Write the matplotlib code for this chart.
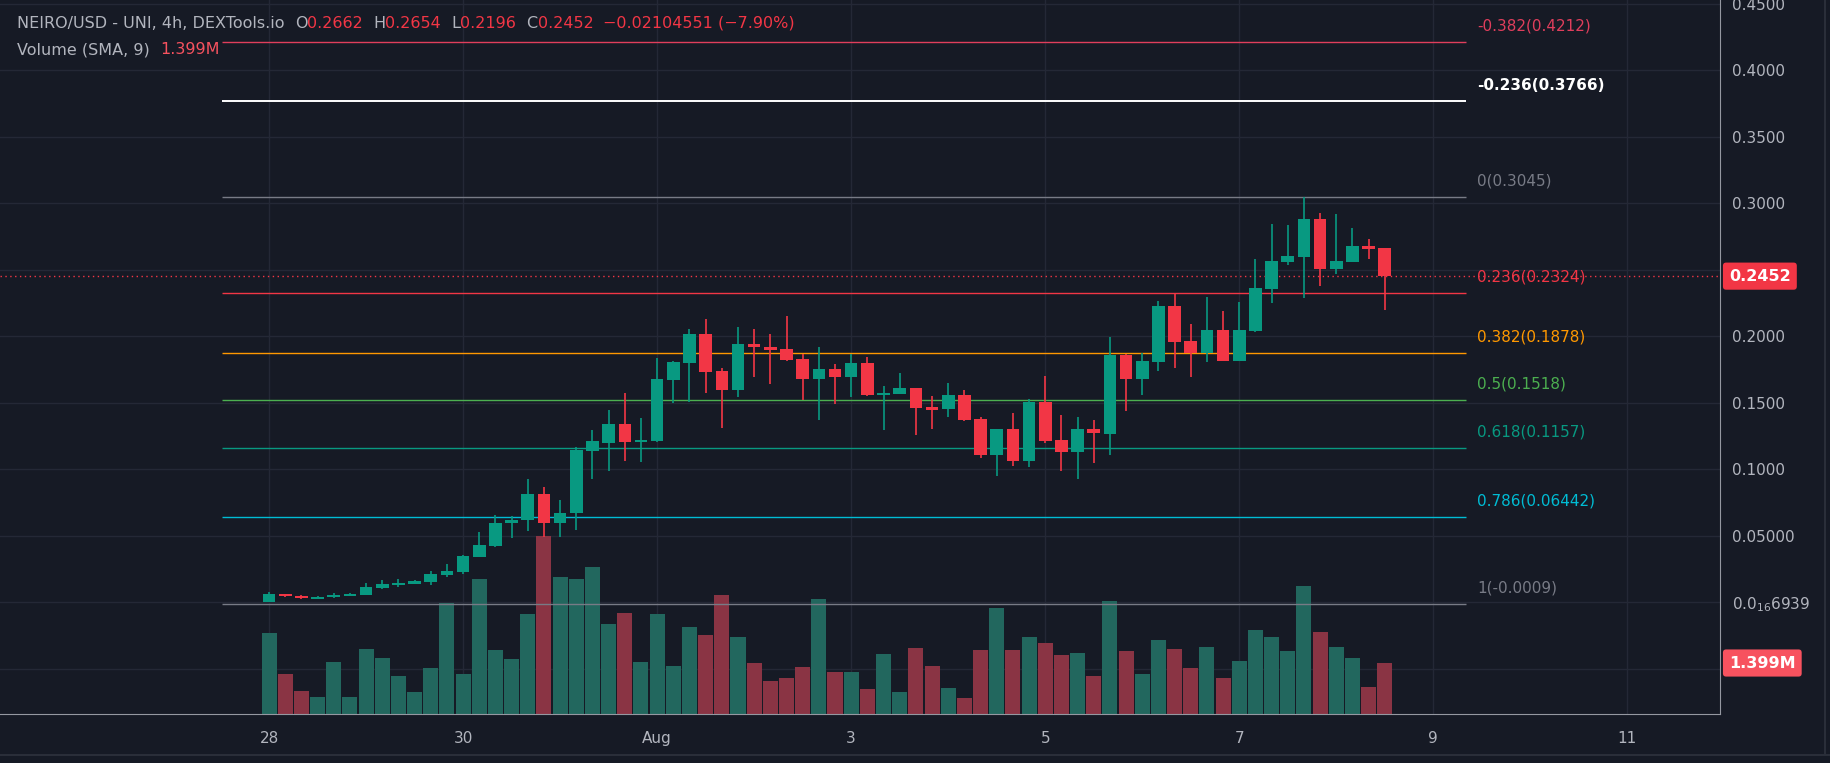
import numpy as np
import matplotlib
matplotlib.use("Agg")
import matplotlib.pyplot as plt
from matplotlib.transforms import blended_transform_factory

# 4h candles, index 0 = Jul 28 00:00
opens = [0.0002, 0.0064, 0.0050, 0.0029, 0.0038, 0.0052, 0.0058, 0.0110, 0.0130, 0.0140,
         0.0155, 0.0210, 0.0230, 0.0345, 0.0425, 0.0595, 0.0618, 0.0815, 0.0600, 0.0670,
         0.1141, 0.1201, 0.1341, 0.1209, 0.1213, 0.1672, 0.1802, 0.2017, 0.1739, 0.1598,
         0.1942, 0.1917, 0.1902, 0.1827, 0.1679, 0.1752, 0.1697, 0.1797, 0.1559, 0.1569,
         0.1609, 0.1469, 0.1451, 0.1556, 0.1381, 0.1109, 0.1304, 0.1066, 0.1507, 0.1221,
         0.1129, 0.1304, 0.1268, 0.1860, 0.1682, 0.1807, 0.2228, 0.1965, 0.1877, 0.2047,
         0.1817, 0.2042, 0.2358, 0.2558, 0.2596, 0.2881, 0.2506, 0.2561, 0.2678, 0.2662]
highs = [0.0077, 0.0066, 0.0056, 0.0047, 0.0070, 0.0072, 0.0144, 0.0169, 0.0177, 0.0170,
         0.0234, 0.0289, 0.0357, 0.0527, 0.0657, 0.0650, 0.0926, 0.0866, 0.0770, 0.1166,
         0.1296, 0.1447, 0.1572, 0.1386, 0.1834, 0.1815, 0.2052, 0.2130, 0.1759, 0.2072,
         0.2052, 0.2017, 0.2155, 0.1867, 0.1922, 0.1792, 0.1869, 0.1842, 0.1627, 0.1727,
         0.1612, 0.1552, 0.1647, 0.1596, 0.1396, 0.1306, 0.1426, 0.1532, 0.1702, 0.1411,
         0.1391, 0.1371, 0.1997, 0.1870, 0.1873, 0.2266, 0.2322, 0.2093, 0.2292, 0.2190,
         0.2260, 0.2578, 0.2843, 0.2836, 0.3045, 0.2929, 0.2919, 0.2814, 0.2731, 0.2662]
lows = [0.0000, 0.0044, 0.0028, 0.0027, 0.0036, 0.0050, 0.0055, 0.0105, 0.0115, 0.0137,
        0.0131, 0.0190, 0.0215, 0.0340, 0.0420, 0.0485, 0.0540, 0.0494, 0.0494, 0.0545,
        0.0928, 0.0990, 0.1063, 0.1056, 0.1205, 0.1496, 0.1509, 0.1576, 0.1309, 0.1546,
        0.1697, 0.1644, 0.1815, 0.1521, 0.1371, 0.1491, 0.1546, 0.1551, 0.1296, 0.1565,
        0.1258, 0.1301, 0.1391, 0.1366, 0.1089, 0.0953, 0.1029, 0.1021, 0.1196, 0.0990,
        0.0928, 0.1046, 0.1111, 0.1439, 0.1559, 0.1742, 0.1764, 0.1697, 0.1807, 0.1812,
        0.1812, 0.2035, 0.2251, 0.2535, 0.2288, 0.2378, 0.2468, 0.2556, 0.2581, 0.2196]
closes = [0.0064, 0.0046, 0.0030, 0.0042, 0.0058, 0.0066, 0.0116, 0.0139, 0.0149, 0.0162,
          0.0214, 0.0237, 0.0349, 0.0430, 0.0597, 0.0620, 0.0815, 0.0600, 0.0672, 0.1146,
          0.1210, 0.1341, 0.1209, 0.1220, 0.1679, 0.1807, 0.2017, 0.1734, 0.1598, 0.1942,
          0.1916, 0.1897, 0.1822, 0.1679, 0.1752, 0.1697, 0.1797, 0.1559, 0.1571, 0.1609,
          0.1464, 0.1446, 0.1556, 0.1371, 0.1109, 0.1304, 0.1066, 0.1507, 0.1216, 0.1129,
          0.1304, 0.1274, 0.1860, 0.1682, 0.1815, 0.2228, 0.1960, 0.1877, 0.2047, 0.1817,
          0.2047, 0.2363, 0.2566, 0.2603, 0.2881, 0.2506, 0.2566, 0.2678, 0.2656, 0.2452]
volumes_m = [2.22, 1.10, 0.63, 0.47, 1.43, 0.47, 1.78, 1.54, 1.04, 0.60,
             1.26, 3.04, 1.10, 3.70, 1.76, 1.51, 2.74, 4.88, 3.76, 3.70,
             4.03, 2.47, 2.78, 1.43, 2.74, 1.32, 2.39, 2.17, 3.26, 2.11,
             1.40, 0.91, 0.99, 1.29, 3.16, 1.15, 1.15, 0.69, 1.65, 0.60,
             1.81, 1.32, 0.71, 0.44, 1.76, 2.91, 1.76, 2.11, 1.95, 1.62,
             1.67, 1.04, 3.10, 1.73, 1.10, 2.03, 1.78, 1.26, 1.84, 0.99,
             1.45, 2.30, 2.11, 1.73, 3.51, 2.25, 1.84, 1.54, 0.74, 1.40]

fib_ratios = ["-0.382", "-0.236", "0", "0.236", "0.382", "0.5", "0.618", "0.786", "1"]
fib_prices = [0.4212, 0.3766, 0.3045, 0.2324, 0.1878, 0.1518, 0.1157, 0.06442, -0.0009]
fib_labels = ["0.4212", "0.3766", "0.3045", "0.2324", "0.1878", "0.1518", "0.1157", "0.06442", "-0.0009"]
fib_colors = ["#e03e5c", "#ffffff", "#787b86", "#f23645", "#ff9800", "#4caf50", "#089981", "#00bcd4", "#787b86"]

date_ticks = [0, 12, 24, 36, 48, 60, 72, 84]
date_labels = ["28", "30", "Aug", "3", "5", "7", "9", "11"]
price_ticks = [0.45, 0.40, 0.35, 0.30, 0.20, 0.15, 0.10, 0.05, 0.0]
price_tick_labels = ["0.4500", "0.4000", "0.3500", "0.3000", "0.2000", "0.1500", "0.1000",
                     "0.05000", r"0.0$_{16}$6939"]
grid_prices = [-0.05, 0.0, 0.05, 0.10, 0.15, 0.20, 0.25, 0.30, 0.35, 0.40, 0.45]
last_price = 0.2452
last_volume = 1.399

BG = "#161a25"
GRID = "#242836"
UP = "#089981"
DOWN = "#f23645"
UP_VOL = "#22675e"
DOWN_VOL = "#8a3444"
AXIS_TXT = "#b2b5be"

W, H = 1831, 763
fig = plt.figure(figsize=(W / 100, H / 100), dpi=100, facecolor=BG)
rect = [0.0, 1 - 714 / H, 1720 / W, 714 / H]
axv = fig.add_axes(rect)
ax = fig.add_axes(rect, sharex=axv)
axv.set_zorder(0)
ax.set_zorder(1)
ax.patch.set_visible(False)
axv.axis("off")

ax.set_xlim(-16.64, 89.73)
ax.set_ylim(-0.0838, 0.4527)
axv.set_ylim(0, 19.59)

x = np.arange(len(opens))
o = np.array(opens); c = np.array(closes); h = np.array(highs); l = np.array(lows)
up = c >= o

# grid (behind the volume bars)
for g in grid_prices:
    axv.plot([-16.64, 89.73], [g, g], color=GRID, lw=1, transform=ax.transData, zorder=0)
for t in date_ticks:
    axv.axvline(t, color=GRID, lw=1, zorder=0)

# volume
axv.bar(x, volumes_m, width=0.93, color=np.where(up, UP_VOL, DOWN_VOL), zorder=1)

# fib levels
for p, col, r, lab in zip(fib_prices, fib_colors, fib_ratios, fib_labels):
    lw = 1.4 if col == "#ffffff" else 1.0
    ax.hlines(p, -2.9, 74.0, color=col, lw=lw, zorder=2)
    ax.annotate(f"{r}({lab})", xy=(74.72, p), xytext=(0, 16), textcoords="offset pixels",
                color=col, fontsize=11, va="center", ha="left",
                fontweight="bold" if col == "#ffffff" else "normal", zorder=4)

# last price dotted line
ax.axhline(last_price, color=DOWN, lw=1, ls=(0, (1, 2.5)), zorder=2.5)

# candles
cols = np.where(up, UP, DOWN)
ax.vlines(x, l, h, color=cols, lw=1.2, zorder=3)
body_lo = np.minimum(o, c)
body_h = np.maximum(np.abs(c - o), 0.0009)
ax.bar(x, body_h, bottom=body_lo, width=0.78, color=cols, zorder=3.5)

# axes styling
for s in ["top", "left"]:
    ax.spines[s].set_visible(False)
ax.spines["bottom"].set_color("#9598a1")
ax.spines["right"].set_color("#9598a1")
ax.yaxis.tick_right()
ax.set_yticks(price_ticks)
ax.set_yticklabels(price_tick_labels)
ax.set_xticks(date_ticks)
ax.set_xticklabels(date_labels)
ax.tick_params(axis="y", length=0, pad=8.5, labelcolor=AXIS_TXT, labelsize=11)
ax.tick_params(axis="x", length=0, pad=12, labelcolor=AXIS_TXT, labelsize=11)

# price / volume tags on the axis
tr = blended_transform_factory(ax.transAxes, ax.transData)
ax.text(1.0 + 9 / 1720, last_price, f"{last_price:.4f}", transform=tr, color="white",
        fontsize=11.5, fontweight="bold", va="center", ha="left", zorder=6, clip_on=False,
        bbox=dict(boxstyle="round,pad=0.38,rounding_size=0.2", fc=DOWN, ec="none"))
trv = blended_transform_factory(axv.transAxes, axv.transData)
axv.text(1.0 + 9 / 1720, last_volume, f"{last_volume:.3f}M", transform=trv, color="white",
         fontsize=11.5, fontweight="bold", va="center", ha="left", zorder=6, clip_on=False,
         bbox=dict(boxstyle="round,pad=0.38,rounding_size=0.2", fc="#f7525f", ec="none"))

# frame lines below/right
fig.add_artist(plt.Line2D([0, 1], [1 - 755 / H, 1 - 755 / H], color="#2a2e39", lw=1.5,
                          transform=fig.transFigure))
fig.add_artist(plt.Line2D([1825 / W, 1825 / W], [1 - 755 / H, 1], color="#2a2e39", lw=1.5,
                          transform=fig.transFigure))

# legend header
renderer = fig.canvas.get_renderer()


def header(x0, y0, parts):
    xp = x0
    for s, col in parts:
        t = fig.text(xp / W, 1 - y0 / H, s, color=col, fontsize=11.5, va="center", ha="left")
        xp += t.get_window_extent(renderer).width


GRAY = "#b2b5be"
header(17, 23, [("NEIRO/USD - UNI, 4h, DEXTools.io  ", GRAY), ("O", GRAY), ("0.2662  ", DOWN),
                ("H", GRAY), ("0.2654  ", DOWN), ("L", GRAY), ("0.2196  ", DOWN),
                ("C", GRAY), ("0.2452  ", DOWN), ("\u22120.02104551 (\u22127.90%)", DOWN)])
header(17, 50, [("Volume (SMA, 9)  ", GRAY), ("1.399M", "#f7525f")])

fig.savefig("out.png", dpi=100, facecolor=BG)
